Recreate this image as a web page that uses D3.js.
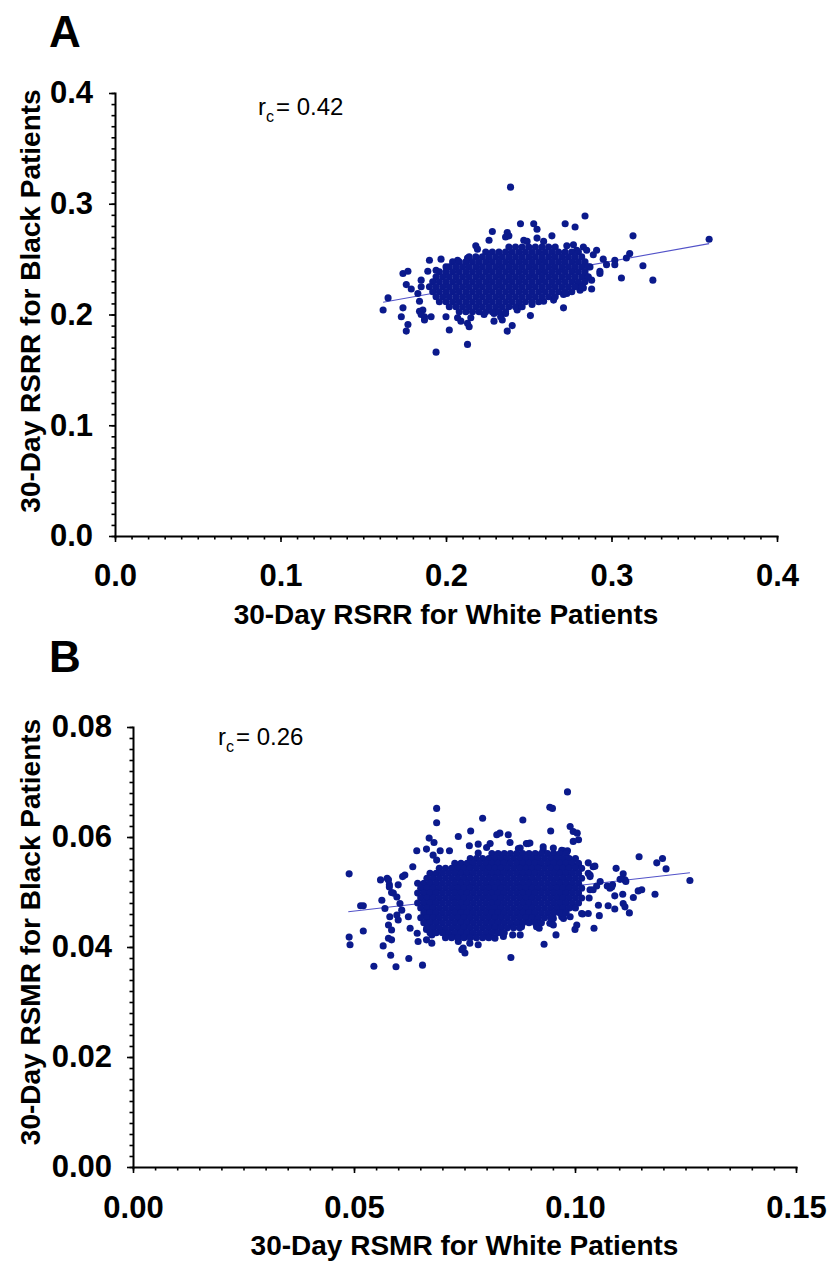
<!DOCTYPE html>
<html><head><meta charset="utf-8">
<script src="https://cdn.jsdelivr.net/npm/d3@7"></script>
<style>body{margin:0;background:#fff}</style>
</head><body>
<svg id="chart" width="832" height="1265"></svg>
<script>
// ---------------- Panel A data (30-day RSRR) ----------------
const ticksA = [0, 0.1, 0.2, 0.3, 0.4];
const rcA = "0.42";
// dense core: one black value per row, white values along that row
const coreA_black = [0.2610,0.2565,0.2520,0.2475,0.2430,0.2385,0.2340,0.2295,0.2250,0.2205,0.2160,0.2115,0.2070,0.2025];
const coreA_white = [
 [0.238,0.242,0.246,0.250,0.254,0.258,0.262,0.266],
 [0.224,0.228,0.232,0.236,0.240,0.244,0.248,0.252,0.256,0.260,0.264,0.268,0.272,0.276,0.280],
 [0.214,0.218,0.222,0.226,0.230,0.234,0.238,0.242,0.246,0.250,0.254,0.258,0.262,0.266,0.270,0.274,0.278,0.282],
 [0.204,0.208,0.212,0.216,0.220,0.224,0.228,0.232,0.236,0.240,0.244,0.248,0.252,0.256,0.260,0.264,0.268,0.272,0.276,0.280,0.284],
 [0.202,0.206,0.210,0.214,0.218,0.222,0.226,0.230,0.234,0.238,0.242,0.246,0.250,0.254,0.258,0.262,0.266,0.270,0.274,0.278,0.282,0.286],
 [0.196,0.200,0.204,0.208,0.212,0.216,0.220,0.224,0.228,0.232,0.236,0.240,0.244,0.248,0.252,0.256,0.260,0.264,0.268,0.272,0.276,0.280,0.284],
 [0.194,0.198,0.202,0.206,0.210,0.214,0.218,0.222,0.226,0.230,0.234,0.238,0.242,0.246,0.250,0.254,0.258,0.262,0.266,0.270,0.274,0.278,0.282,0.286],
 [0.192,0.196,0.200,0.204,0.208,0.212,0.216,0.220,0.224,0.228,0.232,0.236,0.240,0.244,0.248,0.252,0.256,0.260,0.264,0.268,0.272,0.276,0.280,0.284],
 [0.190,0.194,0.198,0.202,0.206,0.210,0.214,0.218,0.222,0.226,0.230,0.234,0.238,0.242,0.246,0.250,0.254,0.258,0.262,0.266,0.270,0.274,0.278,0.282],
 [0.192,0.196,0.200,0.204,0.208,0.212,0.216,0.220,0.224,0.228,0.232,0.236,0.240,0.244,0.248,0.252,0.256,0.260,0.264,0.268,0.272,0.276],
 [0.194,0.198,0.202,0.206,0.210,0.214,0.218,0.222,0.226,0.230,0.234,0.238,0.242,0.246,0.250,0.254,0.258,0.262,0.266],
 [0.196,0.200,0.204,0.208,0.212,0.216,0.220,0.224,0.228,0.232,0.236,0.240,0.244,0.248,0.252,0.256],
 [0.202,0.206,0.210,0.214,0.218,0.222,0.226,0.230,0.234,0.238,0.242,0.246],
 [0.208,0.212,0.216,0.220,0.224,0.228,0.232,0.236]
];
// scattered hospitals around the core
const outerA_white = [0.239,0.284,0.245,0.253,0.272,0.278,0.255,0.228,0.237,0.264,0.313,0.359,0.226,0.319,0.325,0.306,0.311,0.309,0.302,0.302,
 0.293,0.291,0.288,0.271,0.251,0.237,0.213,0.194,0.202,0.176,0.177,0.173,0.174,0.162,0.165,0.174,0.177,0.176,0.179,0.185,
 0.190,0.197,0.187,0.214,0.209,0.229,0.233,0.238,0.236,0.218,0.219,0.247,0.249,0.255,0.259,0.273,0.277,0.279,0.283,0.285,
 0.289,0.293,0.287,0.285,0.288,0.280,0.283,0.281,0.273,0.271,0.259,0.265,0.252,0.245,0.243,0.236,0.234,0.240,0.229,0.223,
 0.215,0.213,0.207,0.200,0.191,0.187,0.186,0.184,0.183,0.185,0.189,0.194,0.200,0.207,0.213,0.184,0.185,0.295,0.297];
const outerA_black = [0.315,0.289,0.282,0.282,0.282,0.279,0.277,0.275,0.274,0.271,0.271,0.268,0.267,0.244,0.231,0.233,0.255,0.251,0.249,0.245,
 0.237,0.258,0.223,0.206,0.199,0.185,0.173,0.166,0.186,0.185,0.191,0.198,0.206,0.204,0.215,0.237,0.239,0.227,0.223,0.231,
 0.249,0.250,0.195,0.189,0.194,0.194,0.198,0.271,0.270,0.262,0.259,0.267,0.266,0.269,0.266,0.262,0.263,0.258,0.261,0.258,
 0.254,0.239,0.243,0.234,0.231,0.228,0.224,0.222,0.219,0.218,0.212,0.213,0.209,0.207,0.204,0.201,0.195,0.190,0.201,0.200,
 0.197,0.192,0.197,0.198,0.198,0.198,0.204,0.212,0.219,0.225,0.239,0.240,0.243,0.249,0.251,0.203,0.200,0.250,0.245];
// regression line end points
const lineA_white = [0.162, 0.359];
const lineA_black = [0.211, 0.264];

// ---------------- Panel B data (30-day RSMR) ----------------
const ticksBx = [0, 0.05, 0.10, 0.15];
const ticksBy = [0, 0.02, 0.04, 0.06, 0.08];
const rcB = "0.26";
const coreB_black = [0.0570,0.0561,0.0552,0.0543,0.0534,0.0525,0.0516,0.0507,0.0498,0.0489,0.0480,0.0471,0.0462,0.0453,0.0444,0.0435,0.0426,0.0417];
const coreB_white = [
 [0.0812,0.0826,0.0840,0.0854,0.0868,0.0882,0.0896,0.0910,0.0924,0.0938,0.0952,0.0966,0.0980],
 [0.0763,0.0777,0.0791,0.0805,0.0819,0.0833,0.0847,0.0861,0.0875,0.0889,0.0903,0.0917,0.0931,0.0945,0.0959,0.0973,0.0987,0.1001],
 [0.0728,0.0742,0.0756,0.0770,0.0784,0.0798,0.0812,0.0826,0.0840,0.0854,0.0868,0.0882,0.0896,0.0910,0.0924,0.0938,0.0952,0.0966,0.0980,0.0994,0.1008],
 [0.0693,0.0707,0.0721,0.0735,0.0749,0.0763,0.0777,0.0791,0.0805,0.0819,0.0833,0.0847,0.0861,0.0875,0.0889,0.0903,0.0917,0.0931,0.0945,0.0959,0.0973,0.0987,0.1001,0.1015],
 [0.0672,0.0686,0.0700,0.0714,0.0728,0.0742,0.0756,0.0770,0.0784,0.0798,0.0812,0.0826,0.0840,0.0854,0.0868,0.0882,0.0896,0.0910,0.0924,0.0938,0.0952,0.0966,0.0980,0.0994,0.1008],
 [0.0665,0.0679,0.0693,0.0707,0.0721,0.0735,0.0749,0.0763,0.0777,0.0791,0.0805,0.0819,0.0833,0.0847,0.0861,0.0875,0.0889,0.0903,0.0917,0.0931,0.0945,0.0959,0.0973,0.0987,0.1001,0.1015],
 [0.0644,0.0658,0.0672,0.0686,0.0700,0.0714,0.0728,0.0742,0.0756,0.0770,0.0784,0.0798,0.0812,0.0826,0.0840,0.0854,0.0868,0.0882,0.0896,0.0910,0.0924,0.0938,0.0952,0.0966,0.0980,0.0994,0.1008],
 [0.0651,0.0665,0.0679,0.0693,0.0707,0.0721,0.0735,0.0749,0.0763,0.0777,0.0791,0.0805,0.0819,0.0833,0.0847,0.0861,0.0875,0.0889,0.0903,0.0917,0.0931,0.0945,0.0959,0.0973,0.0987,0.1001,0.1015],
 [0.0644,0.0658,0.0672,0.0686,0.0700,0.0714,0.0728,0.0742,0.0756,0.0770,0.0784,0.0798,0.0812,0.0826,0.0840,0.0854,0.0868,0.0882,0.0896,0.0910,0.0924,0.0938,0.0952,0.0966,0.0980,0.0994,0.1008],
 [0.0651,0.0665,0.0679,0.0693,0.0707,0.0721,0.0735,0.0749,0.0763,0.0777,0.0791,0.0805,0.0819,0.0833,0.0847,0.0861,0.0875,0.0889,0.0903,0.0917,0.0931,0.0945,0.0959,0.0973,0.0987,0.1001,0.1015],
 [0.0644,0.0658,0.0672,0.0686,0.0700,0.0714,0.0728,0.0742,0.0756,0.0770,0.0784,0.0798,0.0812,0.0826,0.0840,0.0854,0.0868,0.0882,0.0896,0.0910,0.0924,0.0938,0.0952,0.0966,0.0980,0.0994,0.1008],
 [0.0651,0.0665,0.0679,0.0693,0.0707,0.0721,0.0735,0.0749,0.0763,0.0777,0.0791,0.0805,0.0819,0.0833,0.0847,0.0861,0.0875,0.0889,0.0903,0.0917,0.0931,0.0945,0.0959,0.0973,0.0987,0.1001],
 [0.0658,0.0672,0.0686,0.0700,0.0714,0.0728,0.0742,0.0756,0.0770,0.0784,0.0798,0.0812,0.0826,0.0840,0.0854,0.0868,0.0882,0.0896,0.0910,0.0924,0.0938,0.0952,0.0966,0.0980],
 [0.0651,0.0665,0.0679,0.0693,0.0707,0.0721,0.0735,0.0749,0.0763,0.0777,0.0791,0.0805,0.0819,0.0833,0.0847,0.0861,0.0875,0.0889,0.0903,0.0917,0.0931,0.0945],
 [0.0658,0.0672,0.0686,0.0700,0.0714,0.0728,0.0742,0.0756,0.0770,0.0784,0.0798,0.0812,0.0826,0.0840,0.0854,0.0868,0.0882,0.0896,0.0910,0.0924],
 [0.0665,0.0679,0.0693,0.0707,0.0721,0.0735,0.0749,0.0763,0.0777,0.0791,0.0805,0.0819,0.0833,0.0847,0.0861,0.0875],
 [0.0672,0.0686,0.0700,0.0714,0.0728,0.0742,0.0756,0.0770,0.0784,0.0798,0.0812,0.0826,0.0840],
 [0.0707,0.0721,0.0735,0.0749,0.0763,0.0777,0.0791,0.0805]
];
const outerB_white = [0.0983,0.0943,0.0949,0.0687,0.0687,0.0791,0.0882,0.0945,0.0989,0.0996,0.1005,0.1008,0.0996,0.0764,0.0670,0.0642,0.0489,0.0560,0.0575,0.0515,
 0.0521,0.0563,0.0489,0.0491,0.0521,0.0566,0.0583,0.0545,0.0595,0.0624,0.0655,0.0855,0.0930,0.0957,0.0751,0.1145,0.1185,0.1198,0.1206,0.1260,
 0.1093,0.1109,0.1113,0.1151,0.1143,0.1181,0.1132,0.1108,0.1109,0.1113,0.1123,0.1090,0.1075,0.1053,0.1055,0.1043,0.1004,0.1000,0.1017,0.1090,
 0.1041,0.1030,0.1079,0.1085,0.1030,0.1034,0.0664,0.0695,0.0681,0.0633,0.0615,0.0610,0.0600,0.0580,0.0585,0.0570,0.0581,0.0578,0.0585,0.0623,
 0.0627,0.0643,0.0645,0.0664,0.0676,0.0664,0.0676,0.0706,0.0713,0.0736,0.0744,0.0762,0.0781,0.0819,0.0838,0.0859,0.0876,0.0857,0.0879,0.0943,
 0.0951,0.0974,0.0989,0.0919,0.0736,0.0761,0.0781,0.0823,0.0830,0.0849,0.0876,0.0898,0.0928,0.0951,0.0974,0.0983,0.0800,0.0853,0.0716,0.0781,
 0.0679,0.0687,0.0808,0.0872,0.0890,0.0578,0.0580,0.0589,0.0597,0.0604,0.0608,0.0597,0.0600,0.0585,0.0578,0.0747,0.0928,0.0970,0.0981,0.1008,
 0.1045,0.1034,0.1057,0.1073,0.1083,0.1115,0.1102,0.1015,0.1030,0.1032,0.1034,0.1049,0.1041,0.0970,0.0947,0.0951,0.0913,0.0906,0.0996,0.0894];
const outerB_black = [0.0682,0.0654,0.0652,0.0652,0.0626,0.0634,0.0631,0.0611,0.0619,0.0610,0.0607,0.0595,0.0592,0.0611,0.0598,0.0575,0.0533,0.0522,0.0525,0.0475,
 0.0475,0.0485,0.0418,0.0404,0.0429,0.0402,0.0385,0.0365,0.0364,0.0379,0.0367,0.0381,0.0405,0.0422,0.0389,0.0564,0.0553,0.0561,0.0542,0.0521,
 0.0543,0.0533,0.0522,0.0504,0.0502,0.0496,0.0490,0.0496,0.0479,0.0473,0.0462,0.0469,0.0475,0.0476,0.0457,0.0434,0.0440,0.0432,0.0460,0.0493,
 0.0546,0.0553,0.0507,0.0513,0.0534,0.0528,0.0578,0.0575,0.0590,0.0546,0.0531,0.0528,0.0513,0.0513,0.0499,0.0470,0.0455,0.0440,0.0431,0.0455,
 0.0434,0.0425,0.0410,0.0413,0.0407,0.0432,0.0422,0.0431,0.0425,0.0410,0.0395,0.0407,0.0404,0.0416,0.0419,0.0422,0.0422,0.0440,0.0437,0.0443,
 0.0452,0.0452,0.0455,0.0434,0.0601,0.0584,0.0587,0.0604,0.0607,0.0604,0.0580,0.0589,0.0576,0.0580,0.0575,0.0575,0.0581,0.0590,0.0575,0.0571,
 0.0567,0.0558,0.0588,0.0579,0.0588,0.0522,0.0509,0.0498,0.0491,0.0479,0.0467,0.0458,0.0449,0.0413,0.0416,0.0398,0.0582,0.0576,0.0573,0.0549,
 0.0547,0.0531,0.0519,0.0511,0.0509,0.0519,0.0523,0.0461,0.0461,0.0489,0.0504,0.0511,0.0504,0.0455,0.0446,0.0440,0.0437,0.0455,0.0473,0.0588];
const lineB_white = [0.0487, 0.1260];
const lineB_black = [0.0464, 0.0535];

// ---------------- drawing ----------------
const svg = d3.select("#chart");
const FONT = "'Liberation Sans', Arial, Helvetica, sans-serif";
const DOT = "#0b1a8c";
const LINECOL = "#5252c8";

function pointsFrom(coreBlack, coreWhite, outW, outB) {
  const pts = [];
  outW.forEach((w, i) => pts.push([w, outB[i]]));
  coreBlack.forEach((b, i) => coreWhite[i].forEach(w => pts.push([w, b])));
  return pts;
}

function drawPanel(c) {
  const x = d3.scaleLinear().domain(c.xDom).range([c.left, c.right]);
  const y = d3.scaleLinear().domain(c.yDom).range([c.bottom, c.top]);
  const g = svg.append("g");

  // minor ticks
  g.append("g").attr("transform", `translate(0,${c.bottom})`)
    .call(d3.axisBottom(x).ticks(c.minorX).tickSize(3.5).tickFormat("").tickSizeOuter(0))
    .call(s => s.select(".domain").remove());
  g.append("g").attr("transform", `translate(${c.left},0)`)
    .call(d3.axisLeft(y).ticks(c.minorY).tickSize(3.5).tickFormat("").tickSizeOuter(0))
    .call(s => s.select(".domain").remove());
  // major ticks + labels
  g.append("g").attr("transform", `translate(0,${c.bottom})`)
    .call(d3.axisBottom(x).tickValues(c.ticksX).tickSize(6).tickPadding(c.xPad).tickFormat(d3.format(c.fmt)).tickSizeOuter(0));
  g.append("g").attr("transform", `translate(${c.left},0)`)
    .call(d3.axisLeft(y).tickValues(c.ticksY).tickSize(6).tickPadding(c.yPad).tickFormat(d3.format(c.fmt)).tickSizeOuter(0));
  g.selectAll(".domain").attr("stroke", "#000").attr("stroke-width", 2).attr("stroke-linecap", "square");
  g.selectAll(".tick line").attr("stroke", "#000").attr("stroke-width", 1.6);
  g.selectAll(".tick text").attr("font-family", FONT).attr("font-weight", "bold")
    .attr("font-size", 31).attr("fill", "#000");

  // regression line (under the dots)
  g.append("path")
    .datum([[c.lineW[0], c.lineB[0]], [c.lineW[1], c.lineB[1]]])
    .attr("d", d3.line().x(d => x(d[0])).y(d => y(d[1])))
    .attr("stroke", LINECOL).attr("stroke-width", 1.1).attr("fill", "none");

  // dots
  g.append("g").selectAll("circle").data(c.points).join("circle")
    .attr("cx", d => x(d[0])).attr("cy", d => y(d[1])).attr("r", 3.55).attr("fill", DOT);

  // titles
  g.append("text").attr("x", (c.left + c.right) / 2).attr("y", c.xTitleY)
    .attr("text-anchor", "middle").attr("font-family", FONT).attr("font-weight", "bold")
    .attr("font-size", 28).text(c.xTitle);
  g.append("text").attr("transform", `translate(40,${c.yTitleC}) rotate(-90)`)
    .attr("text-anchor", "middle").attr("font-family", FONT).attr("font-weight", "bold")
    .attr("font-size", 28).text(c.yTitle);
  // panel letter
  g.append("text").attr("x", 49).attr("y", c.letterY).attr("font-family", FONT)
    .attr("font-weight", "bold").attr("font-size", 44).text(c.letter);
  // concordance coefficient
  const t = g.append("text").attr("x", c.rcX).attr("y", c.rcY).attr("font-family", FONT)
    .attr("font-size", 24).attr("fill", "#000");
  t.append("tspan").text("r");
  t.append("tspan").attr("font-size", 16).attr("dy", 7).text("c");
  t.append("tspan").attr("dy", -7).attr("dx", 2).text("= " + c.rc);
}

drawPanel({
  xDom: [0, 0.4], yDom: [0, 0.4], left: 115, right: 777, bottom: 536, top: 93,
  minorX: 40, minorY: 40, ticksX: ticksA, ticksY: ticksA, fmt: ".1f", xPad: 22, yPad: 16,
  lineW: lineA_white, lineB: lineA_black,
  points: pointsFrom(coreA_black, coreA_white, outerA_white, outerA_black),
  xTitle: "30-Day RSRR for White Patients", yTitle: "30-Day RSRR for Black Patients",
  xTitleY: 624, yTitleC: 301, letter: "A", letterY: 47, rc: rcA, rcX: 258, rcY: 115
});
drawPanel({
  xDom: [0, 0.15], yDom: [0, 0.08], left: 133, right: 796, bottom: 1167, top: 727,
  minorX: 30, minorY: 40, ticksX: ticksBx, ticksY: ticksBy, fmt: ".2f", xPad: 23, yPad: 15,
  lineW: lineB_white, lineB: lineB_black,
  points: pointsFrom(coreB_black, coreB_white, outerB_white, outerB_black),
  xTitle: "30-Day RSMR for White Patients", yTitle: "30-Day RSMR for Black Patients",
  xTitleY: 1255, yTitleC: 932, letter: "B", letterY: 672, rc: rcB, rcX: 218, rcY: 745
});
</script>
</body></html>
